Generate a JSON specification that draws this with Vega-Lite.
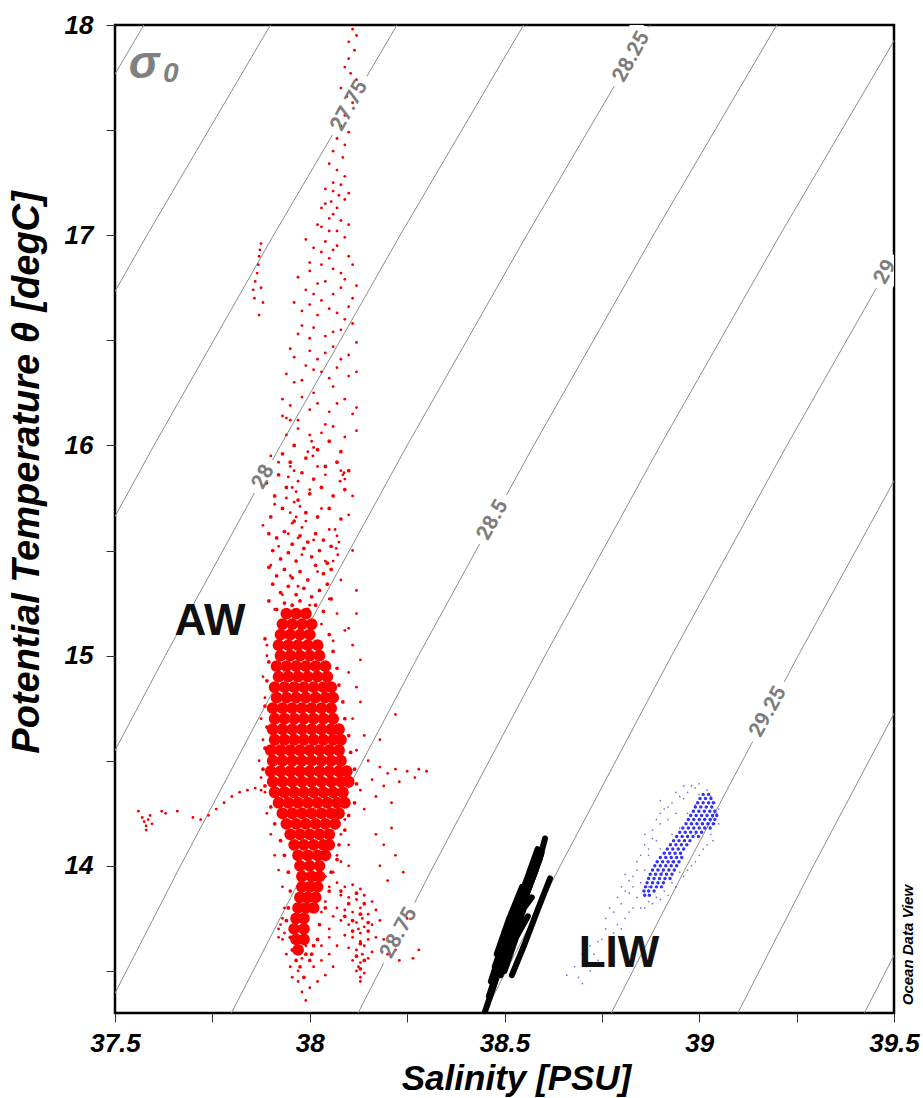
{
  "$schema": "https://vega.github.io/schema/vega-lite/v6.json",
  "width": 779,
  "height": 988,
  "autosize": {"type": "none"},
  "padding": {"left": 115, "top": 25, "right": 29, "bottom": 85},
  "background": "white",
  "config": {"view": {"stroke": "#000", "strokeWidth": 2.5}},
  "datasets": {
    "iso": [
      {"sigma": 27.25, "s": 36.174, "t": 13.3}, {"sigma": 27.25, "s": 36.368, "t": 14}, {"sigma": 27.25, "s": 36.654, "t": 15}, {"sigma": 27.25, "s": 36.95, "t": 16}, {"sigma": 27.25, "s": 37.257, "t": 17}, {"sigma": 27.25, "s": 37.574, "t": 18},
      {"sigma": 27.5, "s": 36.499, "t": 13.3}, {"sigma": 27.5, "s": 36.693, "t": 14}, {"sigma": 27.5, "s": 36.979, "t": 15}, {"sigma": 27.5, "s": 37.275, "t": 16}, {"sigma": 27.5, "s": 37.582, "t": 17}, {"sigma": 27.5, "s": 37.899, "t": 18},
      {"sigma": 27.75, "s": 36.824, "t": 13.3}, {"sigma": 27.75, "s": 37.018, "t": 14}, {"sigma": 27.75, "s": 37.304, "t": 15}, {"sigma": 27.75, "s": 37.6, "t": 16}, {"sigma": 27.75, "s": 37.907, "t": 17}, {"sigma": 27.75, "s": 38.224, "t": 18},
      {"sigma": 28, "s": 37.149, "t": 13.3}, {"sigma": 28, "s": 37.343, "t": 14}, {"sigma": 28, "s": 37.629, "t": 15}, {"sigma": 28, "s": 37.925, "t": 16}, {"sigma": 28, "s": 38.232, "t": 17}, {"sigma": 28, "s": 38.549, "t": 18},
      {"sigma": 28.25, "s": 37.474, "t": 13.3}, {"sigma": 28.25, "s": 37.668, "t": 14}, {"sigma": 28.25, "s": 37.954, "t": 15}, {"sigma": 28.25, "s": 38.25, "t": 16}, {"sigma": 28.25, "s": 38.557, "t": 17}, {"sigma": 28.25, "s": 38.874, "t": 18},
      {"sigma": 28.5, "s": 37.799, "t": 13.3}, {"sigma": 28.5, "s": 37.993, "t": 14}, {"sigma": 28.5, "s": 38.279, "t": 15}, {"sigma": 28.5, "s": 38.575, "t": 16}, {"sigma": 28.5, "s": 38.882, "t": 17}, {"sigma": 28.5, "s": 39.199, "t": 18},
      {"sigma": 28.75, "s": 38.124, "t": 13.3}, {"sigma": 28.75, "s": 38.318, "t": 14}, {"sigma": 28.75, "s": 38.604, "t": 15}, {"sigma": 28.75, "s": 38.9, "t": 16}, {"sigma": 28.75, "s": 39.207, "t": 17}, {"sigma": 28.75, "s": 39.524, "t": 18},
      {"sigma": 29, "s": 38.449, "t": 13.3}, {"sigma": 29, "s": 38.643, "t": 14}, {"sigma": 29, "s": 38.929, "t": 15}, {"sigma": 29, "s": 39.225, "t": 16}, {"sigma": 29, "s": 39.532, "t": 17}, {"sigma": 29, "s": 39.849, "t": 18},
      {"sigma": 29.25, "s": 38.774, "t": 13.3}, {"sigma": 29.25, "s": 38.968, "t": 14}, {"sigma": 29.25, "s": 39.254, "t": 15}, {"sigma": 29.25, "s": 39.55, "t": 16}, {"sigma": 29.25, "s": 39.857, "t": 17}, {"sigma": 29.25, "s": 40.174, "t": 18},
      {"sigma": 29.5, "s": 39.099, "t": 13.3}, {"sigma": 29.5, "s": 39.293, "t": 14}, {"sigma": 29.5, "s": 39.579, "t": 15}, {"sigma": 29.5, "s": 39.875, "t": 16}, {"sigma": 29.5, "s": 40.182, "t": 17}, {"sigma": 29.5, "s": 40.499, "t": 18},
      {"sigma": 29.75, "s": 39.424, "t": 13.3}, {"sigma": 29.75, "s": 39.618, "t": 14}, {"sigma": 29.75, "s": 39.904, "t": 15}, {"sigma": 29.75, "s": 40.2, "t": 16}, {"sigma": 29.75, "s": 40.507, "t": 17}, {"sigma": 29.75, "s": 40.824, "t": 18}
    ],
    "isoLabels": [
      {"label": "27.75", "s": 38.102, "t": 17.615},
      {"label": "28", "s": 37.881, "t": 15.85},
      {"label": "28.25", "s": 38.826, "t": 17.848},
      {"label": "28.5", "s": 38.47, "t": 15.645},
      {"label": "28.75", "s": 38.229, "t": 13.68},
      {"label": "29", "s": 39.478, "t": 16.825},
      {"label": "29.25", "s": 39.177, "t": 14.732}
    ],
    "awCore": [
      {"s": 37.94, "t": 15.2}, {"s": 37.965, "t": 15.2}, {"s": 37.99, "t": 15.2},
      {"s": 37.93, "t": 15.15}, {"s": 37.955, "t": 15.15}, {"s": 37.98, "t": 15.15}, {"s": 38.005, "t": 15.15},
      {"s": 37.925, "t": 15.1}, {"s": 37.95, "t": 15.1}, {"s": 37.975, "t": 15.1}, {"s": 38.0, "t": 15.1},
      {"s": 37.92, "t": 15.05}, {"s": 37.945, "t": 15.05}, {"s": 37.97, "t": 15.05}, {"s": 37.995, "t": 15.05}, {"s": 38.02, "t": 15.05},
      {"s": 37.925, "t": 15.0}, {"s": 37.95, "t": 15.0}, {"s": 37.975, "t": 15.0}, {"s": 38.0, "t": 15.0}, {"s": 38.025, "t": 15.0},
      {"s": 37.915, "t": 14.95}, {"s": 37.94, "t": 14.95}, {"s": 37.965, "t": 14.95}, {"s": 37.99, "t": 14.95}, {"s": 38.015, "t": 14.95}, {"s": 38.04, "t": 14.95},
      {"s": 37.92, "t": 14.9}, {"s": 37.945, "t": 14.9}, {"s": 37.97, "t": 14.9}, {"s": 37.995, "t": 14.9}, {"s": 38.02, "t": 14.9}, {"s": 38.045, "t": 14.9},
      {"s": 37.91, "t": 14.85}, {"s": 37.935, "t": 14.85}, {"s": 37.96, "t": 14.85}, {"s": 37.985, "t": 14.85}, {"s": 38.01, "t": 14.85}, {"s": 38.035, "t": 14.85}, {"s": 38.055, "t": 14.85},
      {"s": 37.915, "t": 14.8}, {"s": 37.94, "t": 14.8}, {"s": 37.965, "t": 14.8}, {"s": 37.99, "t": 14.8}, {"s": 38.015, "t": 14.8}, {"s": 38.04, "t": 14.8}, {"s": 38.06, "t": 14.8},
      {"s": 37.905, "t": 14.75}, {"s": 37.93, "t": 14.75}, {"s": 37.955, "t": 14.75}, {"s": 37.98, "t": 14.75}, {"s": 38.005, "t": 14.75}, {"s": 38.03, "t": 14.75}, {"s": 38.055, "t": 14.75},
      {"s": 37.91, "t": 14.7}, {"s": 37.935, "t": 14.7}, {"s": 37.96, "t": 14.7}, {"s": 37.985, "t": 14.7}, {"s": 38.01, "t": 14.7}, {"s": 38.035, "t": 14.7}, {"s": 38.06, "t": 14.7},
      {"s": 37.905, "t": 14.65}, {"s": 37.93, "t": 14.65}, {"s": 37.955, "t": 14.65}, {"s": 37.98, "t": 14.65}, {"s": 38.005, "t": 14.65}, {"s": 38.03, "t": 14.65}, {"s": 38.055, "t": 14.65}, {"s": 38.075, "t": 14.65},
      {"s": 37.91, "t": 14.6}, {"s": 37.935, "t": 14.6}, {"s": 37.96, "t": 14.6}, {"s": 37.985, "t": 14.6}, {"s": 38.01, "t": 14.6}, {"s": 38.035, "t": 14.6}, {"s": 38.06, "t": 14.6}, {"s": 38.08, "t": 14.6},
      {"s": 37.9, "t": 14.55}, {"s": 37.925, "t": 14.55}, {"s": 37.95, "t": 14.55}, {"s": 37.975, "t": 14.55}, {"s": 38.0, "t": 14.55}, {"s": 38.025, "t": 14.55}, {"s": 38.05, "t": 14.55}, {"s": 38.075, "t": 14.55},
      {"s": 37.905, "t": 14.5}, {"s": 37.93, "t": 14.5}, {"s": 37.955, "t": 14.5}, {"s": 37.98, "t": 14.5}, {"s": 38.005, "t": 14.5}, {"s": 38.03, "t": 14.5}, {"s": 38.055, "t": 14.5}, {"s": 38.08, "t": 14.5},
      {"s": 37.9, "t": 14.45}, {"s": 37.925, "t": 14.45}, {"s": 37.95, "t": 14.45}, {"s": 37.975, "t": 14.45}, {"s": 38.0, "t": 14.45}, {"s": 38.025, "t": 14.45}, {"s": 38.05, "t": 14.45}, {"s": 38.075, "t": 14.45}, {"s": 38.095, "t": 14.45},
      {"s": 37.905, "t": 14.4}, {"s": 37.93, "t": 14.4}, {"s": 37.955, "t": 14.4}, {"s": 37.98, "t": 14.4}, {"s": 38.005, "t": 14.4}, {"s": 38.03, "t": 14.4}, {"s": 38.055, "t": 14.4}, {"s": 38.08, "t": 14.4}, {"s": 38.1, "t": 14.4},
      {"s": 37.91, "t": 14.35}, {"s": 37.935, "t": 14.35}, {"s": 37.96, "t": 14.35}, {"s": 37.985, "t": 14.35}, {"s": 38.01, "t": 14.35}, {"s": 38.035, "t": 14.35}, {"s": 38.06, "t": 14.35}, {"s": 38.085, "t": 14.35},
      {"s": 37.92, "t": 14.3}, {"s": 37.945, "t": 14.3}, {"s": 37.97, "t": 14.3}, {"s": 37.995, "t": 14.3}, {"s": 38.02, "t": 14.3}, {"s": 38.045, "t": 14.3}, {"s": 38.07, "t": 14.3}, {"s": 38.09, "t": 14.3},
      {"s": 37.93, "t": 14.25}, {"s": 37.955, "t": 14.25}, {"s": 37.98, "t": 14.25}, {"s": 38.005, "t": 14.25}, {"s": 38.03, "t": 14.25}, {"s": 38.055, "t": 14.25}, {"s": 38.075, "t": 14.25},
      {"s": 37.94, "t": 14.2}, {"s": 37.965, "t": 14.2}, {"s": 37.99, "t": 14.2}, {"s": 38.015, "t": 14.2}, {"s": 38.04, "t": 14.2}, {"s": 38.065, "t": 14.2},
      {"s": 37.95, "t": 14.15}, {"s": 37.975, "t": 14.15}, {"s": 38.0, "t": 14.15}, {"s": 38.025, "t": 14.15}, {"s": 38.05, "t": 14.15},
      {"s": 37.96, "t": 14.1}, {"s": 37.985, "t": 14.1}, {"s": 38.01, "t": 14.1}, {"s": 38.035, "t": 14.1}, {"s": 38.05, "t": 14.1},
      {"s": 37.97, "t": 14.05}, {"s": 37.995, "t": 14.05}, {"s": 38.02, "t": 14.05}, {"s": 38.04, "t": 14.05},
      {"s": 37.975, "t": 14.0}, {"s": 38.0, "t": 14.0}, {"s": 38.025, "t": 14.0},
      {"s": 37.98, "t": 13.95}, {"s": 38.005, "t": 13.95}, {"s": 38.025, "t": 13.95},
      {"s": 37.98, "t": 13.9}, {"s": 38.0, "t": 13.9}, {"s": 38.02, "t": 13.9},
      {"s": 37.975, "t": 13.85}, {"s": 37.995, "t": 13.85}, {"s": 38.015, "t": 13.85},
      {"s": 37.97, "t": 13.8}, {"s": 37.99, "t": 13.8}, {"s": 38.01, "t": 13.8},
      {"s": 37.965, "t": 13.75}, {"s": 37.985, "t": 13.75},
      {"s": 37.96, "t": 13.7}, {"s": 37.985, "t": 13.7},
      {"s": 37.965, "t": 13.65}, {"s": 37.985, "t": 13.65},
      {"s": 37.97, "t": 13.6}
    ],
    "awMid": [
      {"s": 37.895, "t": 15.58}, {"s": 37.915, "t": 15.56}, {"s": 37.935, "t": 15.59}, {"s": 37.955, "t": 15.53}, {"s": 37.975, "t": 15.57}, {"s": 37.995, "t": 15.54}, {"s": 38.015, "t": 15.58}, {"s": 38.035, "t": 15.55}, {"s": 38.055, "t": 15.52},
      {"s": 37.905, "t": 15.5}, {"s": 37.925, "t": 15.46}, {"s": 37.945, "t": 15.49}, {"s": 37.965, "t": 15.45}, {"s": 37.985, "t": 15.51}, {"s": 38.005, "t": 15.47}, {"s": 38.025, "t": 15.5}, {"s": 38.045, "t": 15.44},
      {"s": 37.895, "t": 15.42}, {"s": 37.915, "t": 15.38}, {"s": 37.935, "t": 15.41}, {"s": 37.955, "t": 15.37}, {"s": 37.975, "t": 15.4}, {"s": 37.995, "t": 15.36}, {"s": 38.015, "t": 15.43}, {"s": 38.035, "t": 15.39}, {"s": 38.055, "t": 15.41},
      {"s": 37.905, "t": 15.34}, {"s": 37.925, "t": 15.3}, {"s": 37.945, "t": 15.33}, {"s": 37.965, "t": 15.29}, {"s": 37.985, "t": 15.32}, {"s": 38.005, "t": 15.28}, {"s": 38.025, "t": 15.31}, {"s": 38.045, "t": 15.34},
      {"s": 37.895, "t": 15.26}, {"s": 37.915, "t": 15.22}, {"s": 37.935, "t": 15.25}, {"s": 37.955, "t": 15.24}, {"s": 37.975, "t": 15.26}, {"s": 37.995, "t": 15.22}, {"s": 38.015, "t": 15.24}, {"s": 38.035, "t": 15.21}, {"s": 38.055, "t": 15.27},
      {"s": 37.9, "t": 15.66}, {"s": 37.93, "t": 15.7}, {"s": 37.96, "t": 15.64}, {"s": 37.99, "t": 15.68}, {"s": 38.02, "t": 15.66}, {"s": 38.05, "t": 15.7}, {"s": 38.08, "t": 15.65},
      {"s": 37.91, "t": 15.76}, {"s": 37.94, "t": 15.8}, {"s": 37.97, "t": 15.74}, {"s": 38.0, "t": 15.77}, {"s": 38.03, "t": 15.8}, {"s": 38.06, "t": 15.76}, {"s": 38.09, "t": 15.79},
      {"s": 37.92, "t": 15.86}, {"s": 37.95, "t": 15.92}, {"s": 37.98, "t": 15.87}, {"s": 38.01, "t": 15.84}, {"s": 38.04, "t": 15.9}, {"s": 38.07, "t": 15.92}, {"s": 38.1, "t": 15.88},
      {"s": 37.93, "t": 15.96}, {"s": 37.96, "t": 16.0}, {"s": 37.99, "t": 15.94}, {"s": 38.02, "t": 15.98}, {"s": 38.05, "t": 16.02}, {"s": 38.08, "t": 15.97},
      {"s": 37.885, "t": 15.08}, {"s": 37.895, "t": 14.97}, {"s": 37.89, "t": 14.88}, {"s": 37.885, "t": 14.76}, {"s": 37.89, "t": 14.66}, {"s": 37.885, "t": 14.56}, {"s": 37.88, "t": 14.46}, {"s": 37.885, "t": 14.38}, {"s": 37.9, "t": 14.28}, {"s": 37.91, "t": 14.2},
      {"s": 37.925, "t": 14.12}, {"s": 37.935, "t": 14.05}, {"s": 37.945, "t": 13.97}, {"s": 37.95, "t": 13.88}, {"s": 37.945, "t": 13.8}, {"s": 37.94, "t": 13.74}, {"s": 37.95, "t": 13.66}, {"s": 37.955, "t": 13.6},
      {"s": 38.05, "t": 15.1}, {"s": 38.06, "t": 15.02}, {"s": 38.07, "t": 14.94}, {"s": 38.075, "t": 14.86}, {"s": 38.085, "t": 14.78}, {"s": 38.09, "t": 14.7}, {"s": 38.1, "t": 14.62}, {"s": 38.105, "t": 14.54}, {"s": 38.115, "t": 14.46}, {"s": 38.12, "t": 14.39},
      {"s": 38.115, "t": 14.3}, {"s": 38.1, "t": 14.24}, {"s": 38.09, "t": 14.17}, {"s": 38.075, "t": 14.1}, {"s": 38.07, "t": 14.03}, {"s": 38.055, "t": 13.97}, {"s": 38.05, "t": 13.88}, {"s": 38.04, "t": 13.8}, {"s": 38.025, "t": 13.72}, {"s": 38.02, "t": 13.65}, {"s": 38.005, "t": 13.58},
      {"s": 38.08, "t": 13.88}, {"s": 38.1, "t": 13.82}, {"s": 38.12, "t": 13.87}, {"s": 38.14, "t": 13.82}, {"s": 38.09, "t": 13.76}, {"s": 38.11, "t": 13.74}, {"s": 38.13, "t": 13.77}, {"s": 38.15, "t": 13.73}, {"s": 38.11, "t": 13.69}, {"s": 38.13, "t": 13.63},
      {"s": 38.15, "t": 13.69}, {"s": 38.12, "t": 13.57}, {"s": 38.14, "t": 13.55}, {"s": 38.13, "t": 13.51},
      {"s": 37.965, "t": 13.55}, {"s": 37.975, "t": 13.52}, {"s": 37.985, "t": 13.47}, {"s": 37.99, "t": 13.58}, {"s": 38.0, "t": 13.55}, {"s": 38.01, "t": 13.62}
    ],
    "aw": [
      {"s": 38.11, "t": 17.98}, {"s": 38.12, "t": 17.95}, {"s": 38.1, "t": 17.92}, {"s": 38.115, "t": 17.88}, {"s": 38.1, "t": 17.84}, {"s": 38.09, "t": 17.8}, {"s": 38.105, "t": 17.77}, {"s": 38.12, "t": 17.74}, {"s": 38.08, "t": 17.7}, {"s": 38.095, "t": 17.66},
      {"s": 38.11, "t": 17.63}, {"s": 38.075, "t": 17.6}, {"s": 38.09, "t": 17.57}, {"s": 38.06, "t": 17.55}, {"s": 38.08, "t": 17.52}, {"s": 38.1, "t": 17.49}, {"s": 38.07, "t": 17.46}, {"s": 38.09, "t": 17.43}, {"s": 38.06, "t": 17.4}, {"s": 38.085, "t": 17.37},
      {"s": 38.05, "t": 17.34}, {"s": 38.07, "t": 17.31}, {"s": 38.09, "t": 17.28}, {"s": 38.06, "t": 17.25}, {"s": 38.04, "t": 17.22}, {"s": 38.075, "t": 17.19}, {"s": 38.055, "t": 17.16}, {"s": 38.03, "t": 17.13}, {"s": 38.06, "t": 17.1}, {"s": 38.08, "t": 17.07},
      {"s": 38.02, "t": 17.05}, {"s": 38.05, "t": 17.02}, {"s": 37.99, "t": 16.98}, {"s": 38.07, "t": 16.95}, {"s": 38.03, "t": 16.92}, {"s": 38.1, "t": 16.9}, {"s": 38.0, "t": 16.87}, {"s": 38.06, "t": 16.84}, {"s": 37.97, "t": 16.8}, {"s": 38.04, "t": 16.78},
      {"s": 38.08, "t": 16.75}, {"s": 38.01, "t": 16.72}, {"s": 38.11, "t": 16.7}, {"s": 37.96, "t": 16.68}, {"s": 38.05, "t": 16.65}, {"s": 38.02, "t": 16.62}, {"s": 38.09, "t": 16.6}, {"s": 37.98, "t": 16.57}, {"s": 38.06, "t": 16.54}, {"s": 38.0, "t": 16.51},
      {"s": 38.12, "t": 16.49}, {"s": 37.95, "t": 16.46}, {"s": 38.04, "t": 16.44}, {"s": 38.08, "t": 16.41}, {"s": 37.99, "t": 16.38}, {"s": 38.03, "t": 16.35}, {"s": 38.1, "t": 16.33}, {"s": 37.96, "t": 16.3}, {"s": 38.06, "t": 16.28}, {"s": 38.01, "t": 16.25},
      {"s": 37.93, "t": 16.22}, {"s": 38.07, "t": 16.2}, {"s": 38.0, "t": 16.17}, {"s": 38.11, "t": 16.15}, {"s": 37.97, "t": 16.12}, {"s": 38.04, "t": 16.1},
      {"s": 37.94, "t": 16.05}, {"s": 37.97, "t": 16.08}, {"s": 38.03, "t": 16.06}, {"s": 38.06, "t": 16.09}, {"s": 38.09, "t": 16.04}, {"s": 38.12, "t": 16.07},
      {"s": 37.95, "t": 16.19}, {"s": 37.98, "t": 16.23}, {"s": 38.02, "t": 16.2}, {"s": 38.05, "t": 16.16}, {"s": 38.09, "t": 16.22}, {"s": 38.12, "t": 16.18},
      {"s": 37.94, "t": 16.34}, {"s": 37.98, "t": 16.31}, {"s": 38.01, "t": 16.36}, {"s": 38.05, "t": 16.32}, {"s": 38.07, "t": 16.37}, {"s": 38.12, "t": 16.35},
      {"s": 37.96, "t": 16.42}, {"s": 38.0, "t": 16.45}, {"s": 38.02, "t": 16.41}, {"s": 38.06, "t": 16.47}, {"s": 38.1, "t": 16.43},
      {"s": 37.97, "t": 16.53}, {"s": 38.01, "t": 16.56}, {"s": 38.04, "t": 16.52}, {"s": 38.08, "t": 16.55}, {"s": 38.11, "t": 16.58},
      {"s": 37.98, "t": 16.64}, {"s": 38.0, "t": 16.67}, {"s": 38.03, "t": 16.69}, {"s": 38.07, "t": 16.63}, {"s": 38.1, "t": 16.66},
      {"s": 37.99, "t": 16.74}, {"s": 38.02, "t": 16.77}, {"s": 38.06, "t": 16.72}, {"s": 38.09, "t": 16.79}, {"s": 38.12, "t": 16.76},
      {"s": 38.0, "t": 16.83}, {"s": 38.03, "t": 16.86}, {"s": 38.05, "t": 16.89}, {"s": 38.08, "t": 16.82}, {"s": 38.11, "t": 16.86},
      {"s": 38.01, "t": 16.94}, {"s": 38.04, "t": 16.97}, {"s": 38.06, "t": 16.93}, {"s": 38.09, "t": 16.99},
      {"s": 38.03, "t": 17.04}, {"s": 38.05, "t": 17.08}, {"s": 38.07, "t": 17.02}, {"s": 38.1, "t": 17.05},
      {"s": 38.04, "t": 17.15}, {"s": 38.07, "t": 17.13}, {"s": 38.09, "t": 17.17}, {"s": 38.06, "t": 17.21}, {"s": 38.08, "t": 17.24}, {"s": 38.1, "t": 17.2},
      {"s": 37.875, "t": 16.96}, {"s": 37.872, "t": 16.93}, {"s": 37.87, "t": 16.9}, {"s": 37.868, "t": 16.86}, {"s": 37.865, "t": 16.82}, {"s": 37.86, "t": 16.78}, {"s": 37.855, "t": 16.74}, {"s": 37.858, "t": 16.7}, {"s": 37.875, "t": 16.75}, {"s": 37.88, "t": 16.68}, {"s": 37.87, "t": 16.62},
      {"s": 37.93, "t": 16.14}, {"s": 37.94, "t": 16.13}, {"s": 37.95, "t": 16.12},
      {"s": 38.0, "t": 16.05}, {"s": 38.005, "t": 16.02}, {"s": 38.01, "t": 15.99}, {"s": 37.995, "t": 15.97}, {"s": 38.008, "t": 15.95},
      {"s": 38.08, "t": 15.88}, {"s": 38.085, "t": 15.86}, {"s": 38.09, "t": 15.84}, {"s": 38.078, "t": 15.83}, {"s": 38.088, "t": 15.87},
      {"s": 38.065, "t": 15.6}, {"s": 38.07, "t": 15.57}, {"s": 38.075, "t": 15.54}, {"s": 38.068, "t": 15.51}, {"s": 38.072, "t": 15.48}, {"s": 38.06, "t": 15.45},
      {"s": 37.95, "t": 15.9}, {"s": 37.96, "t": 15.88}, {"s": 37.945, "t": 15.85}, {"s": 37.97, "t": 15.83}, {"s": 37.955, "t": 15.8}, {"s": 37.965, "t": 15.78}, {"s": 37.94, "t": 15.75}, {"s": 37.96, "t": 15.73}, {"s": 37.975, "t": 15.71}, {"s": 37.95, "t": 15.68},
      {"s": 37.965, "t": 15.66}, {"s": 37.955, "t": 15.63}, {"s": 37.98, "t": 15.61}, {"s": 37.945, "t": 15.58}, {"s": 37.97, "t": 15.56},
      {"s": 37.9, "t": 15.95}, {"s": 37.92, "t": 15.92}, {"s": 38.02, "t": 15.9}, {"s": 38.04, "t": 15.86}, {"s": 37.89, "t": 15.82}, {"s": 38.0, "t": 15.79}, {"s": 38.11, "t": 15.76}, {"s": 37.91, "t": 15.72}, {"s": 38.03, "t": 15.7}, {"s": 38.1, "t": 15.67},
      {"s": 37.99, "t": 15.64}, {"s": 37.88, "t": 15.62}, {"s": 38.05, "t": 15.6}, {"s": 38.01, "t": 15.55}, {"s": 37.92, "t": 15.52}, {"s": 38.11, "t": 15.5}, {"s": 37.98, "t": 15.48}, {"s": 38.04, "t": 15.45}, {"s": 37.9, "t": 15.43}, {"s": 38.02, "t": 15.4},
      {"s": 37.95, "t": 15.38}, {"s": 38.08, "t": 15.36}, {"s": 37.97, "t": 15.33}, {"s": 38.12, "t": 15.31}, {"s": 37.93, "t": 15.29}, {"s": 38.05, "t": 15.27}, {"s": 38.0, "t": 15.24}, {"s": 37.91, "t": 15.22}, {"s": 38.07, "t": 15.2}, {"s": 37.96, "t": 15.18},
      {"s": 38.03, "t": 15.15}, {"s": 38.1, "t": 15.13}, {"s": 37.94, "t": 15.11}, {"s": 37.99, "t": 15.09}, {"s": 38.06, "t": 15.07}, {"s": 37.89, "t": 15.05},
      {"s": 37.89, "t": 15.0}, {"s": 37.88, "t": 14.9}, {"s": 37.885, "t": 14.8}, {"s": 37.875, "t": 14.7}, {"s": 37.88, "t": 14.6}, {"s": 37.87, "t": 14.5}, {"s": 37.875, "t": 14.42}, {"s": 37.885, "t": 14.35}, {"s": 37.89, "t": 14.25}, {"s": 37.9, "t": 14.15},
      {"s": 37.91, "t": 14.05}, {"s": 37.92, "t": 13.98}, {"s": 37.93, "t": 13.9}, {"s": 37.935, "t": 13.8}, {"s": 37.92, "t": 13.7}, {"s": 37.93, "t": 13.65}, {"s": 37.94, "t": 13.58}, {"s": 37.95, "t": 13.52}, {"s": 37.955, "t": 13.47}, {"s": 37.97, "t": 13.45},
      {"s": 37.72, "t": 14.22}, {"s": 37.74, "t": 14.24}, {"s": 37.76, "t": 14.27}, {"s": 37.78, "t": 14.3}, {"s": 37.8, "t": 14.33}, {"s": 37.82, "t": 14.35}, {"s": 37.84, "t": 14.36}, {"s": 37.86, "t": 14.37}, {"s": 37.875, "t": 14.36}, {"s": 37.7, "t": 14.23},
      {"s": 37.56, "t": 14.26}, {"s": 37.57, "t": 14.23}, {"s": 37.575, "t": 14.21}, {"s": 37.58, "t": 14.19}, {"s": 37.585, "t": 14.22}, {"s": 37.59, "t": 14.24}, {"s": 37.595, "t": 14.2}, {"s": 37.62, "t": 14.26}, {"s": 37.63, "t": 14.25}, {"s": 37.66, "t": 14.26}, {"s": 37.58, "t": 14.17},
      {"s": 38.15, "t": 14.5}, {"s": 38.18, "t": 14.47}, {"s": 38.2, "t": 14.44}, {"s": 38.22, "t": 14.46}, {"s": 38.25, "t": 14.45}, {"s": 38.28, "t": 14.46}, {"s": 38.3, "t": 14.45}, {"s": 38.27, "t": 14.42}, {"s": 38.23, "t": 14.4}, {"s": 38.19, "t": 14.38},
      {"s": 38.16, "t": 14.41}, {"s": 38.13, "t": 14.36}, {"s": 38.17, "t": 14.33}, {"s": 38.21, "t": 14.3}, {"s": 38.14, "t": 14.27}, {"s": 38.12, "t": 14.55}, {"s": 38.14, "t": 14.62}, {"s": 38.11, "t": 14.7}, {"s": 38.13, "t": 14.78}, {"s": 38.12, "t": 14.85},
      {"s": 38.1, "t": 14.92}, {"s": 38.13, "t": 14.98}, {"s": 38.11, "t": 15.05}, {"s": 38.09, "t": 15.12}, {"s": 38.12, "t": 15.2}, {"s": 38.22, "t": 14.72}, {"s": 38.18, "t": 14.6},
      {"s": 38.07, "t": 13.92}, {"s": 38.09, "t": 13.9}, {"s": 38.11, "t": 13.91}, {"s": 38.13, "t": 13.89}, {"s": 38.08, "t": 13.86}, {"s": 38.1, "t": 13.85}, {"s": 38.12, "t": 13.84}, {"s": 38.14, "t": 13.86}, {"s": 38.16, "t": 13.83}, {"s": 38.07, "t": 13.8},
      {"s": 38.09, "t": 13.79}, {"s": 38.11, "t": 13.78}, {"s": 38.13, "t": 13.8}, {"s": 38.15, "t": 13.77}, {"s": 38.17, "t": 13.79}, {"s": 38.08, "t": 13.74}, {"s": 38.1, "t": 13.72}, {"s": 38.12, "t": 13.73}, {"s": 38.14, "t": 13.71}, {"s": 38.16, "t": 13.72},
      {"s": 38.18, "t": 13.74}, {"s": 38.09, "t": 13.67}, {"s": 38.11, "t": 13.66}, {"s": 38.13, "t": 13.68}, {"s": 38.15, "t": 13.65}, {"s": 38.17, "t": 13.66}, {"s": 38.1, "t": 13.61}, {"s": 38.12, "t": 13.6}, {"s": 38.14, "t": 13.62}, {"s": 38.16, "t": 13.59},
      {"s": 38.11, "t": 13.55}, {"s": 38.13, "t": 13.54}, {"s": 38.15, "t": 13.56}, {"s": 38.12, "t": 13.5}, {"s": 38.14, "t": 13.49}, {"s": 38.13, "t": 13.45}, {"s": 38.125, "t": 13.52}, {"s": 38.135, "t": 13.58}, {"s": 38.13, "t": 13.64}, {"s": 38.125, "t": 13.7},
      {"s": 38.135, "t": 13.75}, {"s": 38.13, "t": 13.47},
      {"s": 38.19, "t": 14.1}, {"s": 38.22, "t": 14.05}, {"s": 38.18, "t": 14.0}, {"s": 38.24, "t": 13.97}, {"s": 38.2, "t": 13.93}, {"s": 38.17, "t": 14.15}, {"s": 38.21, "t": 14.18}, {"s": 38.25, "t": 13.75}, {"s": 38.22, "t": 13.6}, {"s": 38.28, "t": 13.6},
      {"s": 38.2, "t": 13.58}, {"s": 38.19, "t": 13.65}, {"s": 38.23, "t": 13.55}, {"s": 38.265, "t": 13.56},
      {"s": 38.07, "t": 14.25}, {"s": 38.09, "t": 14.22}, {"s": 38.08, "t": 14.15}, {"s": 38.1, "t": 14.1}, {"s": 38.07, "t": 14.05}, {"s": 38.1, "t": 14.0}, {"s": 38.06, "t": 13.97}, {"s": 38.08, "t": 14.02},
      {"s": 37.98, "t": 13.4}, {"s": 37.99, "t": 13.36}, {"s": 38.0, "t": 13.42}, {"s": 38.02, "t": 13.45}, {"s": 37.97, "t": 13.5}, {"s": 38.01, "t": 13.52}, {"s": 38.04, "t": 13.48}, {"s": 38.03, "t": 13.55}, {"s": 37.98, "t": 13.56}, {"s": 38.05, "t": 13.58},
      {"s": 38.06, "t": 13.52}, {"s": 38.03, "t": 13.62}, {"s": 38.05, "t": 13.66}, {"s": 38.07, "t": 13.62}, {"s": 37.99, "t": 13.62},
      {"s": 37.925, "t": 13.72}, {"s": 37.93, "t": 13.75}, {"s": 37.935, "t": 13.68}, {"s": 37.92, "t": 13.66},
      {"s": 38.04, "t": 13.95}, {"s": 38.05, "t": 13.9}, {"s": 38.04, "t": 13.83}, {"s": 38.06, "t": 13.76}, {"s": 38.05, "t": 13.7}, {"s": 38.03, "t": 13.78}, {"s": 38.05, "t": 14.05}, {"s": 38.04, "t": 14.1}
    ],
    "liwTracks": [
      {"trk": 1, "s": 38.445, "t": 13.28}, {"trk": 1, "s": 38.48, "t": 13.47}, {"trk": 1, "s": 38.52, "t": 13.68}, {"trk": 1, "s": 38.56, "t": 13.88}, {"trk": 1, "s": 38.59, "t": 14.03}, {"trk": 1, "s": 38.604, "t": 14.13},
      {"trk": 2, "s": 38.47, "t": 13.42}, {"trk": 2, "s": 38.5, "t": 13.58}, {"trk": 2, "s": 38.535, "t": 13.76}, {"trk": 2, "s": 38.57, "t": 13.93}, {"trk": 2, "s": 38.595, "t": 14.06},
      {"trk": 3, "s": 38.46, "t": 13.38}, {"trk": 3, "s": 38.49, "t": 13.55}, {"trk": 3, "s": 38.525, "t": 13.73}, {"trk": 3, "s": 38.555, "t": 13.86}, {"trk": 3, "s": 38.58, "t": 13.98},
      {"trk": 4, "s": 38.519, "t": 13.48}, {"trk": 4, "s": 38.55, "t": 13.62}, {"trk": 4, "s": 38.585, "t": 13.79}, {"trk": 4, "s": 38.617, "t": 13.94},
      {"trk": 5, "s": 38.49, "t": 13.48}, {"trk": 5, "s": 38.52, "t": 13.64}, {"trk": 5, "s": 38.55, "t": 13.8}, {"trk": 5, "s": 38.57, "t": 13.85},
      {"trk": 6, "s": 38.475, "t": 13.52}, {"trk": 6, "s": 38.505, "t": 13.68}, {"trk": 6, "s": 38.54, "t": 13.84},
      {"trk": 7, "s": 38.465, "t": 13.45}, {"trk": 7, "s": 38.495, "t": 13.62}, {"trk": 7, "s": 38.53, "t": 13.8}, {"trk": 7, "s": 38.56, "t": 13.95}, {"trk": 7, "s": 38.585, "t": 14.08},
      {"trk": 8, "s": 38.48, "t": 13.58}, {"trk": 8, "s": 38.51, "t": 13.74}, {"trk": 8, "s": 38.545, "t": 13.9},
      {"trk": 9, "s": 38.5, "t": 13.5}, {"trk": 9, "s": 38.53, "t": 13.66}, {"trk": 9, "s": 38.56, "t": 13.76}
    ],
    "liwCore": [
      {"s": 38.86, "t": 13.86}, {"s": 38.872, "t": 13.86},
      {"s": 38.858, "t": 13.88}, {"s": 38.87, "t": 13.88}, {"s": 38.884, "t": 13.88},
      {"s": 38.862, "t": 13.9}, {"s": 38.876, "t": 13.9}, {"s": 38.89, "t": 13.9}, {"s": 38.903, "t": 13.9},
      {"s": 38.866, "t": 13.92}, {"s": 38.88, "t": 13.92}, {"s": 38.894, "t": 13.92}, {"s": 38.908, "t": 13.92},
      {"s": 38.87, "t": 13.94}, {"s": 38.884, "t": 13.94}, {"s": 38.898, "t": 13.94}, {"s": 38.912, "t": 13.94}, {"s": 38.925, "t": 13.94},
      {"s": 38.874, "t": 13.96}, {"s": 38.888, "t": 13.96}, {"s": 38.902, "t": 13.96}, {"s": 38.916, "t": 13.96}, {"s": 38.93, "t": 13.96},
      {"s": 38.88, "t": 13.98}, {"s": 38.894, "t": 13.98}, {"s": 38.908, "t": 13.98}, {"s": 38.922, "t": 13.98}, {"s": 38.936, "t": 13.98},
      {"s": 38.886, "t": 14.0}, {"s": 38.9, "t": 14.0}, {"s": 38.914, "t": 14.0}, {"s": 38.928, "t": 14.0}, {"s": 38.942, "t": 14.0},
      {"s": 38.892, "t": 14.02}, {"s": 38.906, "t": 14.02}, {"s": 38.92, "t": 14.02}, {"s": 38.934, "t": 14.02}, {"s": 38.948, "t": 14.02},
      {"s": 38.9, "t": 14.04}, {"s": 38.914, "t": 14.04}, {"s": 38.928, "t": 14.04}, {"s": 38.942, "t": 14.04}, {"s": 38.955, "t": 14.04},
      {"s": 38.91, "t": 14.06}, {"s": 38.924, "t": 14.06}, {"s": 38.938, "t": 14.06}, {"s": 38.952, "t": 14.06},
      {"s": 38.918, "t": 14.08}, {"s": 38.932, "t": 14.08}, {"s": 38.946, "t": 14.08}, {"s": 38.96, "t": 14.08},
      {"s": 38.926, "t": 14.1}, {"s": 38.94, "t": 14.1}, {"s": 38.954, "t": 14.1}, {"s": 38.968, "t": 14.1},
      {"s": 38.934, "t": 14.12}, {"s": 38.948, "t": 14.12}, {"s": 38.962, "t": 14.12}, {"s": 38.976, "t": 14.12},
      {"s": 38.942, "t": 14.14}, {"s": 38.956, "t": 14.14}, {"s": 38.97, "t": 14.14}, {"s": 38.984, "t": 14.14}, {"s": 38.998, "t": 14.14},
      {"s": 38.95, "t": 14.16}, {"s": 38.964, "t": 14.16}, {"s": 38.978, "t": 14.16}, {"s": 38.992, "t": 14.16}, {"s": 39.006, "t": 14.16},
      {"s": 38.958, "t": 14.18}, {"s": 38.972, "t": 14.18}, {"s": 38.986, "t": 14.18}, {"s": 39.0, "t": 14.18}, {"s": 39.014, "t": 14.18}, {"s": 39.028, "t": 14.18},
      {"s": 38.966, "t": 14.2}, {"s": 38.98, "t": 14.2}, {"s": 38.994, "t": 14.2}, {"s": 39.008, "t": 14.2}, {"s": 39.022, "t": 14.2}, {"s": 39.036, "t": 14.2},
      {"s": 38.972, "t": 14.22}, {"s": 38.986, "t": 14.22}, {"s": 39.0, "t": 14.22}, {"s": 39.014, "t": 14.22}, {"s": 39.028, "t": 14.22}, {"s": 39.04, "t": 14.22},
      {"s": 38.978, "t": 14.24}, {"s": 38.992, "t": 14.24}, {"s": 39.006, "t": 14.24}, {"s": 39.02, "t": 14.24}, {"s": 39.034, "t": 14.24}, {"s": 39.045, "t": 14.24},
      {"s": 38.985, "t": 14.26}, {"s": 38.999, "t": 14.26}, {"s": 39.013, "t": 14.26}, {"s": 39.027, "t": 14.26}, {"s": 39.04, "t": 14.26},
      {"s": 38.99, "t": 14.28}, {"s": 39.004, "t": 14.28}, {"s": 39.018, "t": 14.28}, {"s": 39.032, "t": 14.28},
      {"s": 38.996, "t": 14.3}, {"s": 39.01, "t": 14.3}, {"s": 39.024, "t": 14.3}, {"s": 39.036, "t": 14.3},
      {"s": 39.002, "t": 14.32}, {"s": 39.016, "t": 14.32}, {"s": 39.03, "t": 14.32},
      {"s": 39.01, "t": 14.34}, {"s": 39.024, "t": 14.34}
    ],
    "liwSparse": [
      {"s": 38.69, "t": 13.47}, {"s": 38.71, "t": 13.52}, {"s": 38.73, "t": 13.58}, {"s": 38.72, "t": 13.62}, {"s": 38.75, "t": 13.65}, {"s": 38.77, "t": 13.62}, {"s": 38.76, "t": 13.7}, {"s": 38.79, "t": 13.72}, {"s": 38.78, "t": 13.78}, {"s": 38.81, "t": 13.75},
      {"s": 38.8, "t": 13.82}, {"s": 38.83, "t": 13.8}, {"s": 38.82, "t": 13.87}, {"s": 38.84, "t": 13.85}, {"s": 38.85, "t": 13.92}, {"s": 38.83, "t": 13.95}, {"s": 38.86, "t": 13.98}, {"s": 38.84, "t": 14.02}, {"s": 38.87, "t": 14.05}, {"s": 38.86, "t": 14.1},
      {"s": 38.89, "t": 14.12}, {"s": 38.88, "t": 14.17}, {"s": 38.9, "t": 14.2}, {"s": 38.92, "t": 14.22}, {"s": 38.91, "t": 14.27}, {"s": 38.94, "t": 14.25}, {"s": 38.93, "t": 14.3}, {"s": 38.95, "t": 14.33}, {"s": 38.97, "t": 14.35}, {"s": 38.96, "t": 14.38},
      {"s": 38.99, "t": 14.37}, {"s": 39.0, "t": 14.34}, {"s": 39.02, "t": 14.36}, {"s": 39.04, "t": 14.3}, {"s": 39.045, "t": 14.25}, {"s": 39.04, "t": 14.2}, {"s": 39.03, "t": 14.15}, {"s": 39.02, "t": 14.1}, {"s": 39.0, "t": 14.05}, {"s": 38.98, "t": 14.0},
      {"s": 38.96, "t": 13.95}, {"s": 38.94, "t": 13.9}, {"s": 38.92, "t": 13.86}, {"s": 38.9, "t": 13.84}, {"s": 38.88, "t": 13.82}, {"s": 38.86, "t": 13.8}, {"s": 38.9, "t": 14.08}, {"s": 38.93, "t": 14.15}, {"s": 38.95, "t": 14.18}, {"s": 38.97, "t": 14.25},
      {"s": 38.99, "t": 14.29}, {"s": 38.87, "t": 13.9}, {"s": 38.905, "t": 13.97}, {"s": 38.93, "t": 14.02}, {"s": 38.95, "t": 14.06}, {"s": 38.97, "t": 14.1}, {"s": 38.99, "t": 14.15}, {"s": 39.01, "t": 14.2}, {"s": 38.74, "t": 13.55}, {"s": 38.7, "t": 13.58},
      {"s": 38.8, "t": 13.9}, {"s": 38.82, "t": 13.93},
      {"s": 38.76, "t": 13.75}, {"s": 38.78, "t": 13.68}, {"s": 38.8, "t": 13.7}, {"s": 38.74, "t": 13.64}, {"s": 38.77, "t": 13.8}, {"s": 38.79, "t": 13.85}, {"s": 38.81, "t": 13.88}, {"s": 38.83, "t": 13.9}, {"s": 38.81, "t": 13.96}, {"s": 38.84, "t": 13.98},
      {"s": 38.85, "t": 14.05}, {"s": 38.87, "t": 14.08}, {"s": 38.88, "t": 14.13}, {"s": 38.86, "t": 14.15}, {"s": 38.89, "t": 14.22}, {"s": 38.9, "t": 14.25}, {"s": 38.92, "t": 14.28}, {"s": 38.9, "t": 14.31}, {"s": 38.94, "t": 14.35}, {"s": 38.96, "t": 14.32},
      {"s": 38.98, "t": 14.38}, {"s": 39.0, "t": 14.39}, {"s": 39.03, "t": 14.33}, {"s": 39.05, "t": 14.27}, {"s": 39.05, "t": 14.2}, {"s": 39.035, "t": 14.12}, {"s": 39.01, "t": 14.08}, {"s": 38.99, "t": 14.02}, {"s": 38.97, "t": 13.98}, {"s": 38.95, "t": 13.97},
      {"s": 38.93, "t": 13.92}, {"s": 38.91, "t": 13.88}, {"s": 38.89, "t": 13.85}, {"s": 38.87, "t": 13.83}, {"s": 38.85, "t": 13.8}, {"s": 38.82, "t": 13.78}, {"s": 38.72, "t": 13.5}, {"s": 38.68, "t": 13.52}, {"s": 38.7, "t": 13.44}, {"s": 38.66, "t": 13.48}
    ]
  },
  "encoding": {
    "x": {
      "field": "s",
      "type": "quantitative",
      "scale": {"domain": [37.5, 39.5], "nice": false, "zero": false},
      "axis": {
        "title": "Salinity [PSU]",
        "values": [37.5, 37.75, 38, 38.25, 38.5, 38.75, 39, 39.25, 39.5],
        "labelExpr": "datum.value % 0.5 === 0 ? format(datum.value, '~g') : ''",
        "grid": false,
        "domain": false,
        "tickSize": 9,
        "tickColor": "#333",
        "tickWidth": 1,
        "labelFont": "Liberation Sans",
        "labelFontSize": 26,
        "labelFontWeight": "bold",
        "labelFontStyle": "italic",
        "labelColor": "#000",
        "labelPadding": 8,
        "labelFlush": false,
        "labelOverlap": false,
        "labelBound": false,
        "titleFont": "Liberation Sans",
        "titleFontSize": 35,
        "titleFontWeight": "bold",
        "titleFontStyle": "italic",
        "titleColor": "#000",
        "titleAlign": "center",
        "titleBaseline": "alphabetic",
        "titleX": 401,
        "titleY": 76
      }
    },
    "y": {
      "field": "t",
      "type": "quantitative",
      "scale": {"domain": [13.3, 18], "nice": false, "zero": false},
      "axis": {
        "title": "Potential Temperature θ [degC]",
        "values": [13.5, 14, 14.5, 15, 15.5, 16, 16.5, 17, 17.5, 18],
        "labelExpr": "datum.value % 1 === 0 ? format(datum.value, '~g') : ''",
        "grid": false,
        "domain": false,
        "tickSize": 9,
        "tickColor": "#333",
        "tickWidth": 1,
        "labelFont": "Liberation Sans",
        "labelFontSize": 26,
        "labelFontWeight": "bold",
        "labelFontStyle": "italic",
        "labelColor": "#000",
        "labelPadding": 13,
        "labelOverlap": false,
        "labelBound": false,
        "labelFlush": false,
        "titleFont": "Liberation Sans",
        "titleFontSize": 38,
        "titleFontWeight": "bold",
        "titleFontStyle": "italic",
        "titleColor": "#000",
        "titleAngle": 270,
        "titleAlign": "center",
        "titleBaseline": "alphabetic",
        "titleX": -77,
        "titleY": 447
      }
    }
  },
  "layer": [
    {
      "data": {"name": "iso"},
      "mark": {"type": "line", "clip": true, "color": "#8c8c8c", "strokeWidth": 1},
      "encoding": {"detail": {"field": "sigma"}, "order": {"field": "t"}}
    },
    {
      "data": {"name": "isoLabels"},
      "mark": {"type": "text", "clip": true, "angle": -61, "font": "Roboto", "fontWeight": "bold", "fontSize": 21, "fill": "white", "stroke": "white", "strokeWidth": 16, "strokeJoin": "round", "align": "center", "baseline": "middle"},
      "encoding": {"text": {"field": "label"}}
    },
    {
      "data": {"name": "awCore"},
      "mark": {"type": "circle", "clip": true, "color": "#ff0000", "opacity": 1, "size": 140},
      "encoding": {}
    },
    {
      "data": {"name": "awMid"},
      "mark": {"type": "circle", "clip": true, "color": "#f40000", "opacity": 1, "size": 14},
      "encoding": {}
    },
    {
      "data": {"name": "aw"},
      "mark": {"type": "circle", "clip": true, "color": "#f20000", "opacity": 1, "size": 8},
      "encoding": {}
    },
    {
      "data": {"name": "liwTracks"},
      "mark": {"type": "line", "clip": true, "color": "#000", "strokeWidth": 6, "strokeCap": "round"},
      "encoding": {"detail": {"field": "trk"}, "order": {"field": "t"}}
    },
    {
      "data": {"name": "liwSparse"},
      "mark": {"type": "circle", "clip": true, "color": "#3a3ad0", "opacity": 0.7, "size": 3},
      "encoding": {}
    },
    {
      "data": {"name": "liwCore"},
      "mark": {"type": "circle", "clip": true, "color": "#1a1aff", "opacity": 0.9, "size": 12},
      "encoding": {}
    },
    {
      "data": {"name": "isoLabels"},
      "mark": {"type": "text", "clip": true, "angle": -61, "font": "Roboto", "fontWeight": "bold", "fontSize": 21, "color": "#7d7d7d", "align": "center", "baseline": "middle"},
      "encoding": {"text": {"field": "label"}}
    },
    {
      "data": {"values": [{"sym": "σ", "s": 37.535, "t": 17.748}]},
      "mark": {"type": "text", "font": "Liberation Sans", "fontWeight": "bold", "fontStyle": "italic", "fontSize": 46, "color": "#808080", "align": "left", "baseline": "alphabetic"},
      "encoding": {"text": {"field": "sym"}}
    },
    {
      "data": {"values": [{"sym": "0", "s": 37.623, "t": 17.729}]},
      "mark": {"type": "text", "font": "Liberation Sans", "fontWeight": "bold", "fontStyle": "italic", "fontSize": 28, "color": "#808080", "align": "left", "baseline": "alphabetic"},
      "encoding": {"text": {"field": "sym"}}
    },
    {
      "data": {"values": [{"name": "AW", "s": 37.744, "t": 15.16}, {"name": "LIW", "s": 38.794, "t": 13.58}]},
      "mark": {"type": "text", "font": "Liberation Sans", "fontWeight": "bold", "fontSize": 44, "color": "#111", "align": "center", "baseline": "middle"},
      "encoding": {"text": {"field": "name"}}
    },
    {
      "data": {"values": [{"credit": "Ocean Data View", "s": 39.536, "t": 13.623}]},
      "mark": {"type": "text", "clip": false, "angle": 270, "font": "Liberation Sans", "fontWeight": "bold", "fontStyle": "italic", "fontSize": 15, "color": "#000", "align": "center", "baseline": "middle"},
      "encoding": {"text": {"field": "credit"}}
    }
  ]
}
